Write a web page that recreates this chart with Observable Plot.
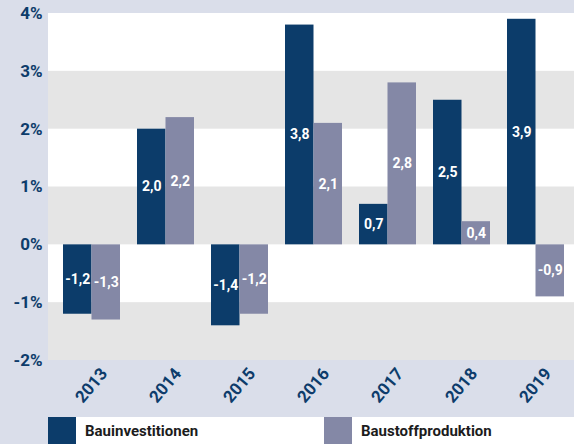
<!DOCTYPE html>
<html>
<head>
<meta charset="utf-8">
<script src="https://cdn.jsdelivr.net/npm/d3@7"></script>
<script src="https://cdn.jsdelivr.net/npm/@observablehq/plot@0.6"></script>
<style>
  html, body { margin: 0; padding: 0; background: #dadeea; }
  #wrap { width: 574px; height: 444px; position: relative; overflow: hidden; background: #dadeea; font-family: Roboto, "DejaVu Sans", sans-serif; }
  #legend { position: absolute; left: 48px; top: 417px; width: 526px; height: 27px; background: #ffffff; }
  .sw { position: absolute; top: 0; width: 28px; height: 27px; }
  .lt { position: absolute; top: 0; line-height: 29px; font-size: 15px; font-weight: 700; color: #1c1c1c; }
</style>
</head>
<body>
<div id="wrap">
  <div id="chart"></div>
  <div id="legend"></div>
</div>
<script>
const years = ["2013", "2014", "2015", "2016", "2017", "2018", "2019"];
const bauinvestitionen = [-1.2, 2.0, -1.4, 3.8, 0.7, 2.5, 3.9];
const baustoffproduktion = [-1.3, 2.2, -1.2, 2.1, 2.8, 0.4, -0.9];
const seriesNames = ["Bauinvestitionen", "Baustoffproduktion"];
const seriesColors = ["#0c3c6a", "#8488a6"];
const yTicks = [-2, -1, 0, 1, 2, 3, 4];
const greyBands = [{y1: 2, y2: 3}, {y1: 0, y2: 1}, {y1: -2, y2: -1}];

const darkData = years.map((y, i) => ({year: y, v: bauinvestitionen[i]}));
const lightData = years.map((y, i) => ({year: y, v: baustoffproduktion[i]}));
const fmt = v => v.toFixed(1).replace(".", ",");

const half = 28.5;
const chart = Plot.plot({
  width: 574,
  height: 417,
  marginLeft: 48,
  marginRight: 0,
  marginTop: 13,
  marginBottom: 57,
  style: {background: "transparent", fontFamily: "Roboto, 'DejaVu Sans', sans-serif"},
  x: {domain: years, range: [54, 572], paddingInner: 0.23, paddingOuter: 0.115, axis: null},
  y: {domain: [-2, 4], axis: null},
  marks: [
    Plot.rect([{y1: -2, y2: 4}], {y1: "y1", y2: "y2", fill: "#ffffff"}),
    Plot.rect(greyBands, {y1: "y1", y2: "y2", fill: "#e5e5e5"}),
    Plot.barY(darkData, {x: "year", y: "v", fill: seriesColors[0], insetRight: half}),
    Plot.barY(lightData, {x: "year", y: "v", fill: seriesColors[1], insetLeft: half}),
    Plot.text(darkData, {x: "year", y: d => d.v / 2, text: d => fmt(d.v), dx: -half / 2, fill: "white", fontSize: 14, fontWeight: "bold"}),
    Plot.text(lightData, {x: "year", y: d => d.v / 2, text: d => fmt(d.v), dx: half / 2, fill: "white", fontSize: 14, fontWeight: "bold"}),
    Plot.axisY({ticks: yTicks, tickFormat: d => d + "%", tickSize: 0, tickPadding: 6, fontSize: 17, fontWeight: "bold", color: "#0d3c6b", label: null}),
    Plot.axisX({tickRotate: -50, tickSize: 0, tickPadding: 8, dx: 12, dy: 2, fontSize: 17, fontWeight: "bold", color: "#0d3c6b", label: null})
  ]
});
document.getElementById("chart").appendChild(chart);

const legend = document.getElementById("legend");
const legendX = [0, 276];
seriesNames.forEach((name, i) => {
  const sw = document.createElement("div");
  sw.className = "sw";
  sw.style.left = legendX[i] + "px";
  sw.style.background = seriesColors[i];
  legend.appendChild(sw);
  const t = document.createElement("div");
  t.className = "lt";
  t.style.left = (legendX[i] + 37) + "px";
  t.textContent = name;
  legend.appendChild(t);
});
</script>
</body>
</html>
